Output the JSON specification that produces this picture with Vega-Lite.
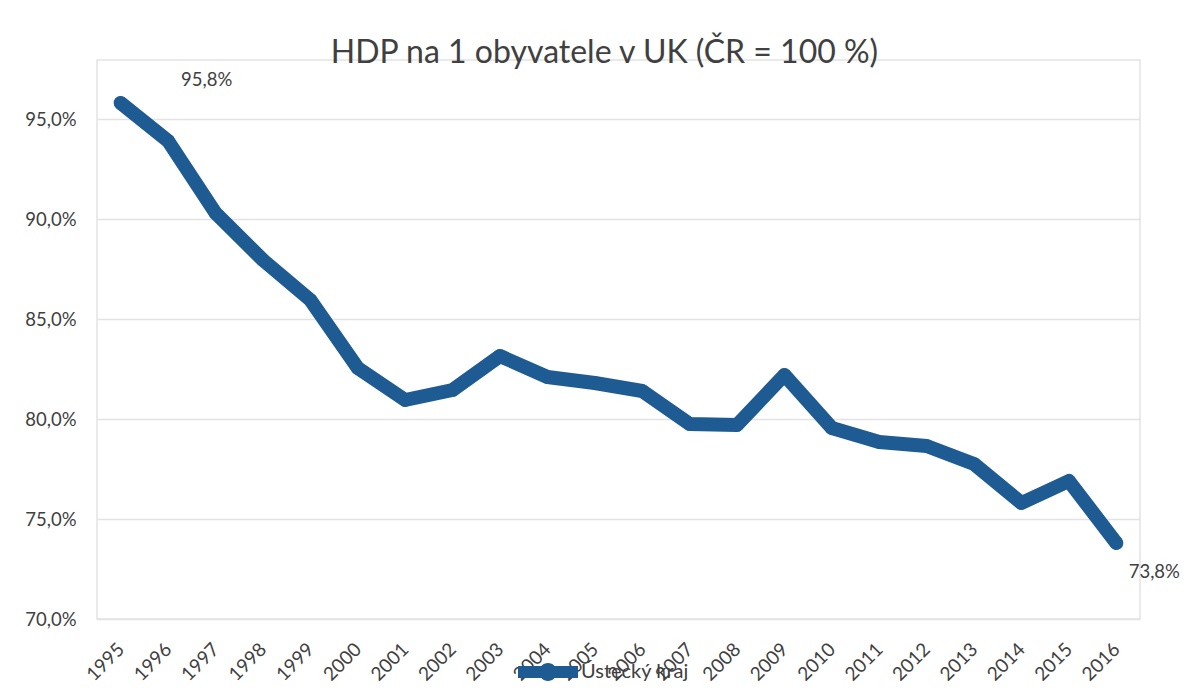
{
  "$schema": "https://vega.github.io/schema/vega-lite/v6.json",
  "width": 1043,
  "height": 559,
  "autosize": {"type": "none"},
  "padding": {"left": 97, "top": 60, "right": 52, "bottom": 80},
  "background": "white",
  "title": {
    "text": "HDP na 1 obyvatele v UK (ČR = 100 %)",
    "font": "Lato",
    "fontSize": 32,
    "fontWeight": "normal",
    "color": "#404040",
    "anchor": "middle",
    "dx": -14,
    "offset": -10
  },
  "data": {
    "values": [
      {"rok": "1995", "hodnota": 95.8, "kraj": "Ústecký kraj", "label": "95,8%"},
      {"rok": "1996", "hodnota": 93.9, "kraj": "Ústecký kraj", "label": ""},
      {"rok": "1997", "hodnota": 90.3, "kraj": "Ústecký kraj", "label": ""},
      {"rok": "1998", "hodnota": 87.95, "kraj": "Ústecký kraj", "label": ""},
      {"rok": "1999", "hodnota": 85.95, "kraj": "Ústecký kraj", "label": ""},
      {"rok": "2000", "hodnota": 82.55, "kraj": "Ústecký kraj", "label": ""},
      {"rok": "2001", "hodnota": 80.95, "kraj": "Ústecký kraj", "label": ""},
      {"rok": "2002", "hodnota": 81.45, "kraj": "Ústecký kraj", "label": ""},
      {"rok": "2003", "hodnota": 83.15, "kraj": "Ústecký kraj", "label": ""},
      {"rok": "2004", "hodnota": 82.1, "kraj": "Ústecký kraj", "label": ""},
      {"rok": "2005", "hodnota": 81.8, "kraj": "Ústecký kraj", "label": ""},
      {"rok": "2006", "hodnota": 81.4, "kraj": "Ústecký kraj", "label": ""},
      {"rok": "2007", "hodnota": 79.75, "kraj": "Ústecký kraj", "label": ""},
      {"rok": "2008", "hodnota": 79.7, "kraj": "Ústecký kraj", "label": ""},
      {"rok": "2009", "hodnota": 82.2, "kraj": "Ústecký kraj", "label": ""},
      {"rok": "2010", "hodnota": 79.55, "kraj": "Ústecký kraj", "label": ""},
      {"rok": "2011", "hodnota": 78.85, "kraj": "Ústecký kraj", "label": ""},
      {"rok": "2012", "hodnota": 78.65, "kraj": "Ústecký kraj", "label": ""},
      {"rok": "2013", "hodnota": 77.75, "kraj": "Ústecký kraj", "label": ""},
      {"rok": "2014", "hodnota": 75.8, "kraj": "Ústecký kraj", "label": ""},
      {"rok": "2015", "hodnota": 76.9, "kraj": "Ústecký kraj", "label": ""},
      {"rok": "2016", "hodnota": 73.8, "kraj": "Ústecký kraj", "label": "73,8%"}
    ]
  },
  "encoding": {
    "x": {
      "field": "rok",
      "type": "ordinal",
      "scale": {"type": "point", "padding": 0.5},
      "axis": {
        "title": null,
        "labelAngle": -45,
        "labelAlign": "right",
        "labelBaseline": "middle",
        "labelFont": "Lato",
        "labelFontSize": 19,
        "labelColor": "#404040",
        "labelPadding": 27,
        "ticks": false,
        "domain": false,
        "grid": false
      }
    },
    "y": {
      "field": "hodnota",
      "type": "quantitative",
      "scale": {"domain": [70, 97.95], "nice": false, "zero": false},
      "axis": {
        "title": null,
        "values": [70, 75, 80, 85, 90, 95],
        "labelExpr": "replace(format(datum.value, '.1f'), '.', ',') + '%'",
        "labelFont": "Lato",
        "labelFontSize": 18.5,
        "labelColor": "#404040",
        "labelPadding": 21,
        "ticks": false,
        "domain": false,
        "grid": true,
        "gridColor": "#e3e3e3",
        "gridWidth": 1.5
      }
    }
  },
  "layer": [
    {
      "mark": {"type": "line", "strokeWidth": 14, "strokeJoin": "round", "strokeCap": "round"},
      "encoding": {
        "color": {
          "field": "kraj",
          "type": "nominal",
          "scale": {"range": ["#1f5b93"]},
          "legend": {
            "title": null,
            "orient": "none",
            "legendX": 421,
            "legendY": 582,
            "symbolType": "M-1,-0.2H1V0.2H-1Z M-0.3,0 A0.3,0.3 0 1,1 0.3,0 A0.3,0.3 0 1,1 -0.3,0Z",
            "symbolSize": 3600,
            "symbolFillColor": "#1f5b93",
            "symbolStrokeWidth": 0,
            "labelFont": "Lato",
            "labelFontSize": 20,
            "labelColor": "#404040",
            "labelOffset": 3
          }
        }
      }
    },
    {
      "mark": {"type": "point", "filled": true, "size": 180, "opacity": 1, "color": "#1f5b93"},
      "encoding": {}
    },
    {
      "transform": [{"filter": "datum.rok == '1995'"}],
      "mark": {"type": "text", "dx": 86, "dy": -23, "font": "Lato", "fontSize": 18.5, "color": "#404040"},
      "encoding": {"text": {"field": "label"}}
    },
    {
      "transform": [{"filter": "datum.rok == '2016'"}],
      "mark": {"type": "text", "dx": 38, "dy": 29, "font": "Lato", "fontSize": 18.5, "color": "#404040"},
      "encoding": {"text": {"field": "label"}}
    }
  ],
  "config": {
    "view": {"stroke": "#e3e3e3", "strokeWidth": 1.5}
  }
}
